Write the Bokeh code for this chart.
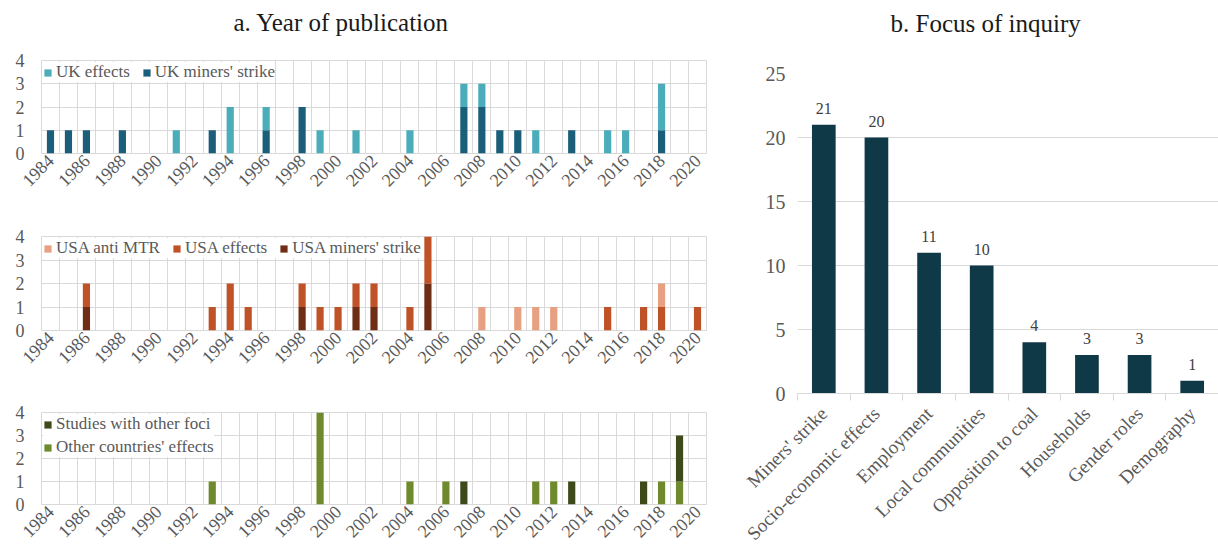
import math
from bokeh.plotting import figure
from bokeh.models import (ColumnDataSource, Range1d, FixedTicker, Legend, LegendItem, LabelSet, Title)
from bokeh.layouts import row, column
from bokeh.embed import file_html
from bokeh.resources import INLINE

# ---------------- data ----------------
years = list(range(1984, 2021))
year_tick_labels = [str(y) for y in years[::2]]

uk_miners_strike = [1, 1, 1, 0, 1, 0, 0, 0, 0, 1, 0, 0, 1, 0, 2, 0, 0, 0, 0, 0, 0, 0, 0, 2, 2, 1, 1, 0, 0, 1, 0, 0, 0, 0, 1, 0, 0]
uk_effects       = [0, 0, 0, 0, 0, 0, 0, 1, 0, 0, 2, 0, 1, 0, 0, 1, 0, 1, 0, 0, 1, 0, 0, 1, 1, 0, 0, 1, 0, 0, 0, 1, 1, 0, 2, 0, 0]

usa_miners_strike = [0, 0, 1, 0, 0, 0, 0, 0, 0, 0, 0, 0, 0, 0, 1, 0, 0, 1, 1, 0, 0, 2, 0, 0, 0, 0, 0, 0, 0, 0, 0, 0, 0, 0, 0, 0, 0]
usa_effects       = [0, 0, 1, 0, 0, 0, 0, 0, 0, 1, 2, 1, 0, 0, 1, 1, 1, 1, 1, 0, 1, 2, 0, 0, 0, 0, 0, 0, 0, 0, 0, 1, 0, 1, 1, 0, 1]
usa_anti_mtr      = [0, 0, 0, 0, 0, 0, 0, 0, 0, 0, 0, 0, 0, 0, 0, 0, 0, 0, 0, 0, 0, 0, 0, 0, 1, 0, 1, 1, 1, 0, 0, 0, 0, 0, 1, 0, 0]

other_countries_effects = [0, 0, 0, 0, 0, 0, 0, 0, 0, 1, 0, 0, 0, 0, 0, 4, 0, 0, 0, 0, 1, 0, 1, 0, 0, 0, 0, 1, 1, 0, 0, 0, 0, 0, 1, 1, 0]
studies_other_foci      = [0, 0, 0, 0, 0, 0, 0, 0, 0, 0, 0, 0, 0, 0, 0, 0, 0, 0, 0, 0, 0, 0, 0, 1, 0, 0, 0, 0, 0, 1, 0, 0, 0, 1, 0, 2, 0]

focus_categories = ["Miners' strike", "Socio-economic effects", "Employment", "Local communities",
                    "Opposition to coal", "Households", "Gender roles", "Demography"]
focus_counts = [21, 20, 11, 10, 4, 3, 3, 1]

# ---------------- style ----------------
FONT = "Liberation Serif"
GRID = "#d9d9d9"
TICK_TXT = "#595959"
TITLE_TXT = "#1a1a1a"


def add_title(p, text, offset, standoff, spacer_size, spacer_standoff):
    # spacer (nearest to the frame) then the visible title above it
    p.add_layout(Title(text=" ", text_font=FONT, text_font_size=spacer_size,
                       standoff=spacer_standoff), "above")
    p.add_layout(Title(text=text, align="left", offset=offset, standoff=standoff,
                       text_font=FONT, text_font_size="25px", text_font_style="normal",
                       text_color=TITLE_TXT), "above")


def year_panel(height, b_top, b_bottom, keys, vals, colors, labels, legend_order, orient):
    data = dict(year=years)
    for k, v in zip(keys, vals):
        data[k] = v
    src = ColumnDataSource(data)
    p = figure(width=712, height=height, output_backend="svg", toolbar_location=None,
               x_range=Range1d(years[0] - 0.5, years[-1] + 0.5), y_range=Range1d(0, 4),
               min_border_left=41, min_border_right=6, min_border_top=b_top,
               min_border_bottom=b_bottom)
    rends = p.vbar_stack(keys, x="year", width=0.4, source=src, fill_color=colors, line_color=None)
    # axes
    p.xaxis.ticker = FixedTicker(ticks=years[::2])
    p.xaxis.major_label_overrides = {y: lab for y, lab in zip(years[::2], year_tick_labels)}
    p.xaxis.major_label_orientation = math.pi / 4
    p.xaxis.axis_line_color = None
    p.xaxis.major_tick_line_color = None
    p.xaxis.minor_tick_line_color = None
    p.xaxis.major_tick_out = 0
    p.xaxis.major_tick_in = 0
    p.xaxis.major_label_standoff = 4
    p.xaxis.major_label_text_font = FONT
    p.xaxis.major_label_text_font_size = "18px"
    p.xaxis.major_label_text_color = TICK_TXT
    p.yaxis.ticker = FixedTicker(ticks=[0, 1, 2, 3, 4])
    p.yaxis.axis_line_color = None
    p.yaxis.major_tick_line_color = None
    p.yaxis.minor_tick_line_color = None
    p.yaxis.major_tick_out = 0
    p.yaxis.major_tick_in = 0
    p.yaxis.major_label_standoff = 17
    p.yaxis.major_label_text_font = FONT
    p.yaxis.major_label_text_font_size = "18px"
    p.yaxis.major_label_text_color = TICK_TXT
    # grid
    p.xgrid.ticker = FixedTicker(ticks=[y - 0.5 for y in years] + [years[-1] + 0.5])
    p.ygrid.ticker = FixedTicker(ticks=[0, 1, 2, 3, 4])
    p.xgrid.grid_line_color = GRID
    p.ygrid.grid_line_color = GRID
    p.outline_line_color = GRID
    # legend
    items = [LegendItem(label=labels[i], renderers=[rends[i]]) for i in legend_order]
    leg = Legend(items=items, location="top_left", orientation=orient, margin=2, padding=3,
                 spacing=12 if orient == "horizontal" else 3,
                 glyph_width=9, glyph_height=9, label_standoff=4, label_height=15,
                 label_text_font=FONT, label_text_font_size="17px", label_text_color=TICK_TXT,
                 background_fill_color="white", background_fill_alpha=1.0, border_line_color=None)
    p.add_layout(leg)
    return p


pA = year_panel(213, 60, 60, ["uk_miners_strike", "uk_effects"], [uk_miners_strike, uk_effects],
                ["#1a5e7a", "#4badb9"], ["UK miners' strike", "UK effects"], [1, 0], "horizontal")
add_title(pA, "a. Year of publication", 192, 2, "20px", 0)

pB = year_panel(179, 23, 62, ["usa_miners_strike", "usa_effects", "usa_anti_mtr"],
                [usa_miners_strike, usa_effects, usa_anti_mtr],
                ["#6e2d14", "#c05228", "#e8a082"], ["USA miners' strike", "USA effects", "USA anti MTR"],
                [2, 1, 0], "horizontal")

pC = year_panel(163, 20, 51, ["other_countries_effects", "studies_other_foci"],
                [other_countries_effects, studies_other_foci],
                ["#6f8a2c", "#3e4a1a"], ["Other countries' effects", "Studies with other foci"],
                [1, 0], "vertical")

# ---------------- right panel ----------------
xs = list(range(len(focus_categories)))
rsrc = ColumnDataSource(dict(x=xs, count=focus_counts, label=[str(v) for v in focus_counts]))
pR = figure(width=506, height=555, output_backend="svg", toolbar_location=None,
            x_range=Range1d(-0.5, len(focus_categories) - 0.5), y_range=Range1d(0, 25),
            min_border_left=85, min_border_right=0, min_border_top=73, min_border_bottom=162)
pR.vbar(x="x", top="count", width=0.45, source=rsrc, fill_color="#103948", line_color=None)
pR.add_layout(LabelSet(x="x", y="count", text="label", source=rsrc, y_offset=11,
                       text_align="center", text_baseline="bottom", text_font=FONT,
                       text_font_size="16px", text_color="#404040"))
add_title(pR, "b. Focus of inquiry", 93, 4, "24px", 7)

pR.xaxis.ticker = FixedTicker(ticks=xs, minor_ticks=[x - 0.5 for x in xs] + [xs[-1] + 0.5])
pR.xaxis.major_label_overrides = {x: c for x, c in zip(xs, focus_categories)}
pR.xaxis.major_label_orientation = math.pi / 4
pR.xaxis.axis_line_color = GRID
pR.xaxis.major_tick_line_color = None
pR.xaxis.major_tick_out = 0
pR.xaxis.major_tick_in = 0
pR.xaxis.minor_tick_line_color = GRID
pR.xaxis.minor_tick_out = 7
pR.xaxis.minor_tick_in = 0
pR.xaxis.major_label_standoff = 10
pR.xaxis.major_label_text_font = FONT
pR.xaxis.major_label_text_font_size = "19px"
pR.xaxis.major_label_text_color = TICK_TXT

pR.yaxis.ticker = FixedTicker(ticks=[0, 5, 10, 15, 20, 25])
pR.yaxis.axis_line_color = None
pR.yaxis.major_tick_line_color = None
pR.yaxis.minor_tick_line_color = None
pR.yaxis.major_tick_out = 0
pR.yaxis.major_tick_in = 0
pR.yaxis.major_label_standoff = 12
pR.yaxis.major_label_text_font = FONT
pR.yaxis.major_label_text_font_size = "20px"
pR.yaxis.major_label_text_color = TICK_TXT

pR.xgrid.grid_line_color = None
pR.ygrid.ticker = FixedTicker(ticks=[5, 10, 15, 20, 25])
pR.ygrid.grid_line_color = GRID
pR.outline_line_color = None

layout = row(column(pA, pB, pC), pR)
open("out.html", "w").write(file_html(layout, INLINE))
